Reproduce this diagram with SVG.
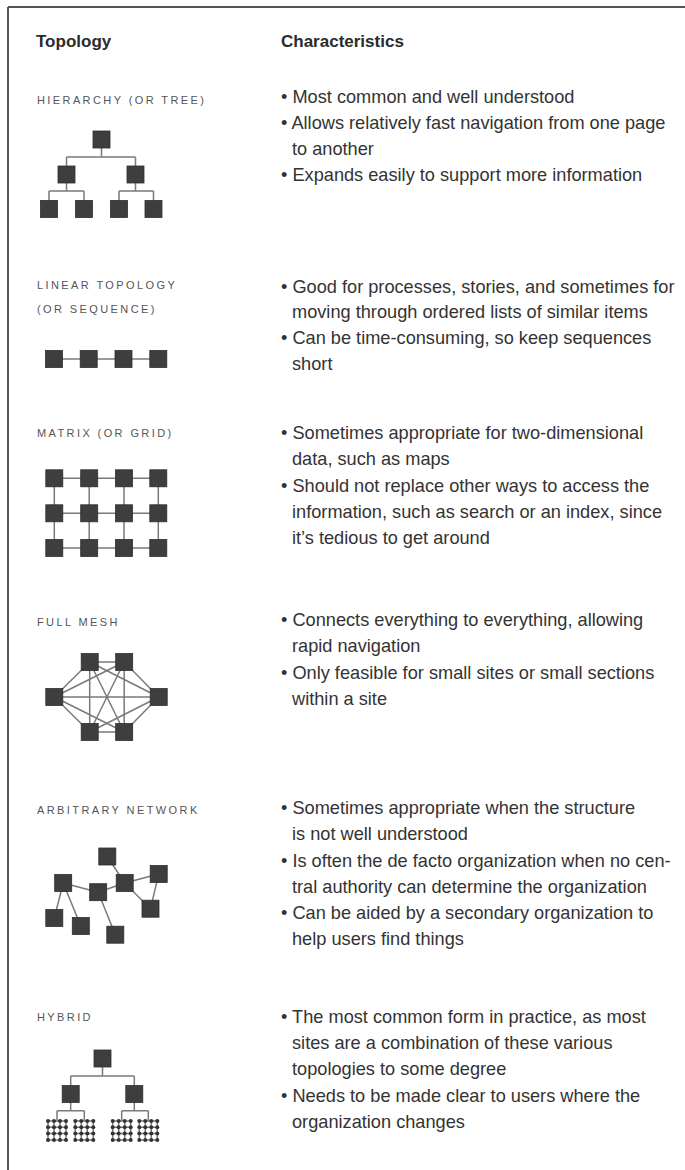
<svg xmlns="http://www.w3.org/2000/svg" xmlns:xlink="http://www.w3.org/1999/xlink" width="685" height="1170" viewBox="0 0 685 1170">
<style>
.hd{font-family:"Liberation Sans",Arial,sans-serif;font-size:17px;font-weight:bold;fill:#2b2b2b}
.lb{font-family:"Liberation Sans",Arial,sans-serif;font-size:11px;letter-spacing:2.4px;fill:#555}
.tx{font-family:"Liberation Sans",Arial,sans-serif;font-size:18.2px;fill:#333}
.ln{stroke:#7a7a7a;stroke-width:1.5;fill:none}
.sq{fill:#3e3e3e;stroke:#2e2e2e;stroke-width:0.8}
.dot{fill:#333}
</style>
<defs>
<rect id="n" class="sq" x="-8.5" y="-8.5" width="17" height="17"/>
<g id="mini">
<path class="ln" stroke-width="1.2" d="M0 0H18M0 6.3H18M0 12.6H18M0 18.9H18M0 0V18.9M6 0V18.9M12 0V18.9M18 0V18.9"/>
<g class="dot">
<circle cx="0" cy="0" r="2"/><circle cx="6" cy="0" r="2"/><circle cx="12" cy="0" r="2"/><circle cx="18" cy="0" r="2"/>
<circle cx="0" cy="6.3" r="2"/><circle cx="6" cy="6.3" r="2"/><circle cx="12" cy="6.3" r="2"/><circle cx="18" cy="6.3" r="2"/>
<circle cx="0" cy="12.6" r="2"/><circle cx="6" cy="12.6" r="2"/><circle cx="12" cy="12.6" r="2"/><circle cx="18" cy="12.6" r="2"/>
<circle cx="0" cy="18.9" r="2"/><circle cx="6" cy="18.9" r="2"/><circle cx="12" cy="18.9" r="2"/><circle cx="18" cy="18.9" r="2"/>
</g>
</g>
</defs>
<rect width="685" height="1170" fill="#fff"/>
<path d="M8 7H685M8 7V1170" stroke="#555" stroke-width="2" fill="none"/>

<g id="header">
<text class="hd" x="36" y="47">Topology</text>
<text class="hd" x="281" y="47">Characteristics</text>
</g>

<g id="connectors">
<!-- hierarchy -->
<path class="ln" d="M101.5 139V157M66.5 157H135.5M66.5 157V174M135.5 157V174M66.5 174V191M49 191H84M49 191V209M84 191V209M135.5 174V191M119 191H153.5M119 191V209M153.5 191V209"/>
<!-- linear -->
<path class="ln" d="M54 359H158.3"/>
<!-- matrix -->
<path class="ln" d="M54.3 478.3H158.3M54.3 513.3H158.3M54.3 548H158.3M54.3 478.3V548M89.2 478.3V548M124 478.3V548M158.3 478.3V548"/>
<!-- full mesh -->
<path class="ln" d="M89.7 662L124.2 662M89.7 662L54.3 697M89.7 662L158.7 697M89.7 662L89.7 732M89.7 662L124.2 732M124.2 662L54.3 697M124.2 662L158.7 697M124.2 662L89.7 732M124.2 662L124.2 732M54.3 697L158.7 697M54.3 697L89.7 732M54.3 697L124.2 732M158.7 697L89.7 732M158.7 697L124.2 732M89.7 732L124.2 732"/>
<!-- arbitrary -->
<path class="ln" d="M107.3 856.5L124.7 883M124.7 883L158.7 874M124.7 883L150.5 908.7M158.7 874L150.5 908.7M63.2 883L98.2 892.2M98.2 892.2L124.7 883M63.2 883L54.3 918M63.2 883L80.8 926M98.2 892.2L115.3 934.7"/>
<!-- hybrid -->
<path class="ln" d="M102.5 1058V1076M70.7 1076H134.3M70.7 1076V1094M134.3 1076V1094M70.7 1094V1110.7M57 1110.7H84.3M57 1110.7V1121M84.3 1110.7V1121M134.3 1094V1110.7M121.7 1110.7H148.3M121.7 1110.7V1121M148.3 1110.7V1121"/>
</g>

<g id="hierarchy">
<text class="lb" x="37" y="104">HIERARCHY (OR TREE)</text>
<use href="#n" x="101.5" y="139.5"/>
<use href="#n" x="66.5" y="174.5"/><use href="#n" x="135.5" y="174.5"/>
<use href="#n" x="49" y="209"/><use href="#n" x="84" y="209"/><use href="#n" x="119" y="209"/><use href="#n" x="153.5" y="209"/>
<text class="tx" x="281" y="103">• Most common and well understood</text>
<text class="tx" x="281" y="129">• Allows relatively fast navigation from one page</text>
<text class="tx" x="292" y="155">to another</text>
<text class="tx" x="281" y="181">• Expands easily to support more information</text>
</g>

<g id="linear">
<text class="lb" x="37" y="289">LINEAR TOPOLOGY</text>
<text class="lb" x="37" y="313">(OR SEQUENCE)</text>
<use href="#n" x="54" y="359"/><use href="#n" x="88.7" y="359"/><use href="#n" x="123.5" y="359"/><use href="#n" x="158.3" y="359"/>
<text class="tx" x="281" y="293">• Good for processes, stories, and sometimes for</text>
<text class="tx" x="292" y="318">moving through ordered lists of similar items</text>
<text class="tx" x="281" y="344">• Can be time-consuming, so keep sequences</text>
<text class="tx" x="292" y="370">short</text>
</g>

<g id="matrix">
<text class="lb" x="37" y="437">MATRIX (OR GRID)</text>
<use href="#n" x="54.3" y="478.3"/><use href="#n" x="89.2" y="478.3"/><use href="#n" x="124" y="478.3"/><use href="#n" x="158.3" y="478.3"/>
<use href="#n" x="54.3" y="513.3"/><use href="#n" x="89.2" y="513.3"/><use href="#n" x="124" y="513.3"/><use href="#n" x="158.3" y="513.3"/>
<use href="#n" x="54.3" y="548"/><use href="#n" x="89.2" y="548"/><use href="#n" x="124" y="548"/><use href="#n" x="158.3" y="548"/>
<text class="tx" x="281" y="439">• Sometimes appropriate for two-dimensional</text>
<text class="tx" x="292" y="465">data, such as maps</text>
<text class="tx" x="281" y="492">• Should not replace other ways to access the</text>
<text class="tx" x="292" y="518">information, such as search or an index, since</text>
<text class="tx" x="292" y="544">it’s tedious to get around</text>
</g>

<g id="fullmesh">
<text class="lb" x="37" y="626">FULL MESH</text>
<use href="#n" x="89.7" y="662"/><use href="#n" x="124.2" y="662"/>
<use href="#n" x="54.3" y="697"/><use href="#n" x="158.7" y="697"/>
<use href="#n" x="89.7" y="732"/><use href="#n" x="124.2" y="732"/>
<text class="tx" x="281" y="626">• Connects everything to everything, allowing</text>
<text class="tx" x="292" y="652">rapid navigation</text>
<text class="tx" x="281" y="679">• Only feasible for small sites or small sections</text>
<text class="tx" x="292" y="705">within a site</text>
</g>

<g id="arbitrary">
<text class="lb" x="37" y="814">ARBITRARY NETWORK</text>
<use href="#n" x="107.3" y="856.5"/><use href="#n" x="158.7" y="874"/><use href="#n" x="124.7" y="883"/>
<use href="#n" x="63.2" y="883"/><use href="#n" x="98.2" y="892.2"/><use href="#n" x="150.5" y="908.7"/>
<use href="#n" x="54.3" y="918"/><use href="#n" x="80.8" y="926"/><use href="#n" x="115.3" y="934.7"/>
<text class="tx" x="281" y="814">• Sometimes appropriate when the structure</text>
<text class="tx" x="292" y="840">is not well understood</text>
<text class="tx" x="281" y="867">• Is often the de facto organization when no cen-</text>
<text class="tx" x="292" y="893">tral authority can determine the organization</text>
<text class="tx" x="281" y="919">• Can be aided by a secondary organization to</text>
<text class="tx" x="292" y="945">help users find things</text>
</g>

<g id="hybrid">
<text class="lb" x="37" y="1021">HYBRID</text>
<use href="#n" x="102.5" y="1058.5"/>
<use href="#n" x="70.7" y="1094"/><use href="#n" x="134.3" y="1094"/>
<use href="#mini" x="48" y="1121"/><use href="#mini" x="75.3" y="1121"/><use href="#mini" x="112.7" y="1121"/><use href="#mini" x="139.3" y="1121"/>
<text class="tx" x="281" y="1023">• The most common form in practice, as most</text>
<text class="tx" x="292" y="1049">sites are a combination of these various</text>
<text class="tx" x="292" y="1075">topologies to some degree</text>
<text class="tx" x="281" y="1102">• Needs to be made clear to users where the</text>
<text class="tx" x="292" y="1128">organization changes</text>
</g>
</svg>
